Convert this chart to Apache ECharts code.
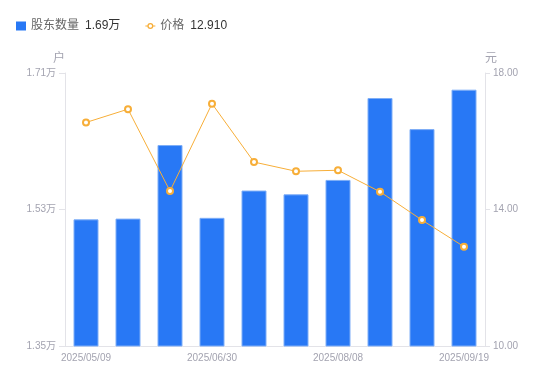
<!DOCTYPE html>
<html>
<head>
<meta charset="utf-8">
<script src="https://cdn.jsdelivr.net/npm/echarts@6/dist/echarts.min.js"></script>
<style>
    html, body { margin: 0; padding: 0; background: #fff; }
    #chart { width: 550px; height: 381px; }
</style>
</head>
<body>
<div id="chart"></div>
<script>
// 报告期
let dates = ['2025/05/09', '2025/05/20', '2025/06/10', '2025/06/30', '2025/07/10',
    '2025/07/18', '2025/08/08', '2025/08/20', '2025/08/29', '2025/09/19']
// 股东数量(户)
let holders = [15170, 15180, 16150, 15190, 15550, 15500, 15690, 16770, 16360, 16880]
// 价格(元)
let prices = [16.55, 16.94, 14.54, 17.10, 15.39, 15.12, 15.15, 14.52, 13.69, 12.91]

let font = '"Liberation Sans", "Noto Sans CJK SC", sans-serif'
let labelColor = '#a3a3b0'
let lineColor = '#e3e3e8'
let blue = '#2878f5'
let orange = '#f7ae38'

// 图例里的折线图标: 短线 + 空心圆
let lineIcon = 'path://M0,2.6L2.2,2.6L2.2,3.4L0,3.4Z M7.8,2.6L10,2.6L10,3.4L7.8,3.4Z ' +
    'M5,0A3,3 0 1,1 5,6A3,3 0 1,1 5,0Z M5,1.3A1.7,1.7 0 1,0 5,4.7A1.7,1.7 0 1,0 5,1.3Z'

let lastHolder = (holders[holders.length - 1] / 10000).toFixed(2) + '万'
let lastPrice = prices[prices.length - 1].toFixed(3)

let chart = echarts.init(document.getElementById('chart'))
chart.setOption({
    animation: false,
    textStyle: { fontFamily: font },
    legend: {
        left: 16,
        top: 20,
        padding: 0,
        itemGap: 25,
        itemWidth: 10,
        itemHeight: 9,
        symbolKeepAspect: true,
        data: [
            { name: '股东数量', icon: 'rect', itemStyle: { borderWidth: 0 } },
            { name: '价格', icon: lineIcon, itemStyle: { color: orange, borderWidth: 0 } }
        ],
        formatter: function (name) {
            let v = name === '股东数量' ? lastHolder : lastPrice
            return '{n|' + name + '}{v|' + v + '}'
        },
        textStyle: {
            rich: {
                n: { fontSize: 12, color: '#666', fontFamily: font },
                v: { fontSize: 12, color: '#333', fontFamily: font, padding: [0, 0, 0, 6] }
            }
        }
    },
    grid: { left: 65, right: 65, top: 73, bottom: 35 },
    xAxis: {
        type: 'category',
        data: dates,
        axisLine: { lineStyle: { color: lineColor } },
        axisTick: { show: false },
        axisLabel: { interval: 2, color: labelColor, fontSize: 10, margin: 7 }
    },
    yAxis: [
        {
            type: 'value',
            name: '户',
            nameGap: 8,
            nameTextStyle: { color: labelColor, fontSize: 12, align: 'right' },
            min: 13500,
            max: 17100,
            interval: 1800,
            axisLine: { show: true, lineStyle: { color: lineColor } },
            axisTick: { show: true, length: 6, lineStyle: { color: lineColor } },
            splitLine: { show: false },
            axisLabel: {
                color: labelColor, fontSize: 10, margin: 9,
                formatter: v => (v / 10000).toFixed(2) + '万'
            }
        },
        {
            type: 'value',
            name: '元',
            nameGap: 8,
            nameTextStyle: { color: labelColor, fontSize: 12, align: 'left' },
            min: 10,
            max: 18,
            interval: 4,
            axisLine: { show: true, lineStyle: { color: lineColor } },
            axisTick: { show: true, length: 5, lineStyle: { color: lineColor } },
            splitLine: { show: false },
            axisLabel: {
                color: labelColor, fontSize: 10, margin: 8,
                formatter: v => v.toFixed(2)
            }
        }
    ],
    series: [
        {
            name: '股东数量',
            type: 'bar',
            data: holders,
            barWidth: 25,
            itemStyle: { color: blue, borderColor: '#7eaef7', borderWidth: 1 }
        },
        {
            name: '价格',
            type: 'line',
            yAxisIndex: 1,
            data: prices,
            symbol: 'circle',
            symbolSize: 6,
            lineStyle: { color: orange, width: 1 },
            itemStyle: { color: '#fff', borderColor: orange, borderWidth: 2 }
        }
    ]
})
</script>
</body>
</html>
